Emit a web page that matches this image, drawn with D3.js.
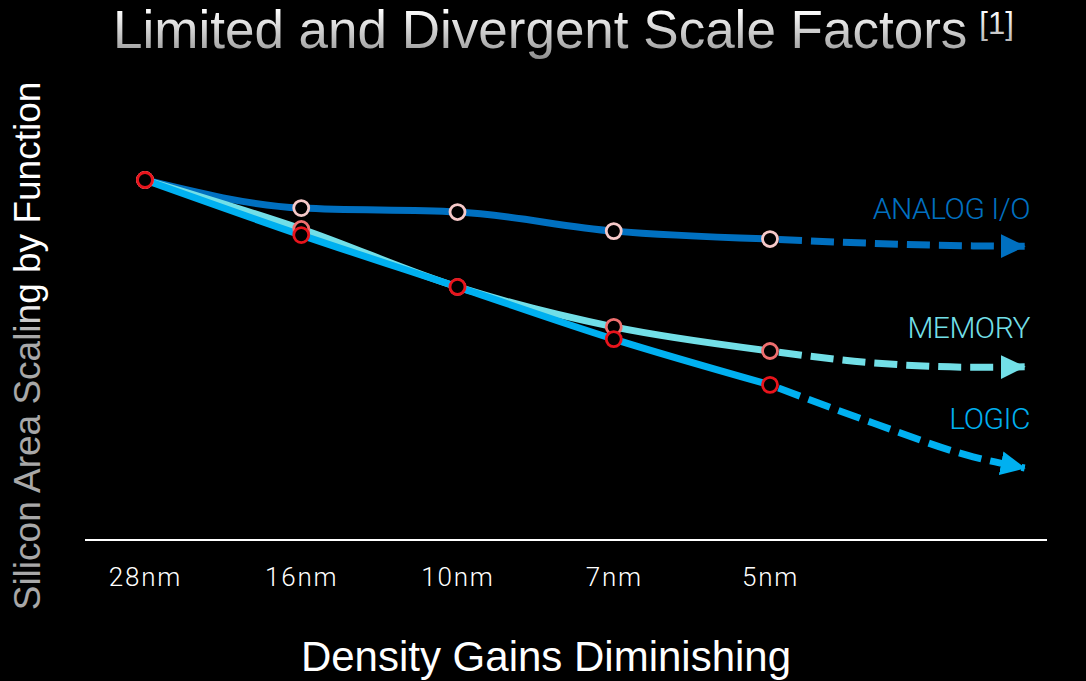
<!DOCTYPE html>
<html>
<head>
<meta charset="utf-8">
<script src="https://cdn.jsdelivr.net/npm/d3@7"></script>
<style>
  html, body { margin: 0; padding: 0; background: #000; }
  svg { display: block; }
</style>
</head>
<body>
<script>
// ---- data ----
const categories = ["28nm", "16nm", "10nm", "7nm", "5nm"];
const analogValues = [1.000, 0.922, 0.911, 0.858, 0.836];
const memoryValues = [1.000, 0.864, 0.703, 0.592, 0.525];
const logicValues  = [1.000, 0.847, 0.703, 0.558, 0.431];
// projections beyond 5nm (position measured in node steps)
const projectionSteps = [4, 4.66, 5.3, 5.63];
const analogProjection = [0.836, 0.824, 0.817, 0.816];
const memoryProjection = [0.525, 0.492, 0.480, 0.481];
const logicProjection  = [0.431, 0.325, 0.231, 0.200];
const seriesNames = ["ANALOG I/O", "MEMORY", "LOGIC"];

const W = 1086, H = 681;
const svg = d3.select("body").append("svg").attr("width", W).attr("height", H)
  .style("background", "#000");
const defs = svg.append("defs");

const titleGrad = defs.append("linearGradient").attr("id", "titleGrad")
  .attr("gradientUnits", "userSpaceOnUse").attr("x1", 0).attr("y1", 10).attr("x2", 0).attr("y2", 60);
titleGrad.append("stop").attr("offset", "0%").attr("stop-color", "#ffffff");
titleGrad.append("stop").attr("offset", "100%").attr("stop-color", "#8c8c8c");

const yGrad = defs.append("linearGradient").attr("id", "yGrad")
  .attr("gradientUnits", "userSpaceOnUse").attr("x1", 12).attr("y1", 0).attr("x2", 46).attr("y2", 0);
yGrad.append("stop").attr("offset", "0%").attr("stop-color", "#a8a8a8");
yGrad.append("stop").attr("offset", "100%").attr("stop-color", "#ffffff");

const x = d3.scaleLinear().domain([0, 4]).range([145, 770]);
const y = d3.scaleLinear().domain([0, 1]).range([540, 180]);

const series = [
  { name: seriesNames[0], values: analogValues, proj: analogProjection, color: "#0070c0", marker: "#f6c9c9", labelY: 219 },
  { name: seriesNames[1], values: memoryValues, proj: memoryProjection, color: "#72dfe7", marker: "#ef6f6f", labelY: 338 },
  { name: seriesNames[2], values: logicValues,  proj: logicProjection,  color: "#00b0f0", marker: "#e8141c", labelY: 429 }
];

series.forEach((s, i) => {
  defs.append("marker").attr("id", "arrow" + i)
    .attr("markerUnits", "userSpaceOnUse")
    .attr("viewBox", "0 -13 25 26")
    .attr("refX", 24).attr("refY", 0)
    .attr("markerWidth", 25).attr("markerHeight", 26)
    .attr("orient", "auto")
    .append("path").attr("d", "M0,-12L25,0L0,12Z").attr("fill", s.color);
});

// title
const title = svg.append("text").attr("x", 113).attr("y", 48)
  .attr("font-family", "Liberation Sans, Arial, sans-serif").attr("font-size", 53)
  .attr("fill", "url(#titleGrad)");
title.append("tspan").text("Limited and Divergent Scale Factors");
title.append("tspan").attr("dx", 12).attr("dy", -14).attr("font-size", 31).text("[1]");

// y axis title
svg.append("text")
  .attr("transform", "translate(40,346) rotate(-90)")
  .attr("text-anchor", "middle")
  .attr("font-family", "Liberation Sans, Arial, sans-serif").attr("font-size", 37)
  .attr("fill", "url(#yGrad)")
  .text("Silicon Area Scaling by Function");

// x axis title
svg.append("text").attr("x", 546).attr("y", 671).attr("text-anchor", "middle")
  .attr("font-family", "Liberation Sans, Arial, sans-serif").attr("font-size", 42)
  .attr("fill", "#ffffff").text("Density Gains Diminishing");

// baseline
svg.append("line").attr("x1", 85).attr("x2", 1047).attr("y1", y(0)).attr("y2", y(0))
  .attr("stroke", "#ffffff").attr("stroke-width", 2);

// x axis tick labels
const xAxis = d3.axisBottom(x).tickValues(d3.range(categories.length))
  .tickFormat(i => categories[i]).tickSize(0);
const gx = svg.append("g").attr("transform", `translate(0,${y(0)})`).call(xAxis);
gx.select(".domain").remove();
gx.selectAll("text").attr("y", 46).attr("dy", null)
  .attr("fill", "#ffffff")
  .attr("font-family", "Roboto, sans-serif").attr("font-weight", 300)
  .attr("font-size", 26).attr("letter-spacing", 1.8);

const line = d3.line().x((d, i) => x(i)).y(d => y(d)).curve(d3.curveMonotoneX);
const projLine = d3.line().x((d, i) => x(projectionSteps[i])).y(d => y(d)).curve(d3.curveMonotoneX);

// projections (dashed)
series.forEach((s, i) => {
  svg.append("path").attr("d", projLine(s.proj))
    .attr("fill", "none").attr("stroke", s.color).attr("stroke-width", 7)
    .attr("stroke-dasharray", "23 9").attr("stroke-dashoffset", 23)
    .attr("marker-end", `url(#arrow${i})`);
});

// solid lines
series.forEach(s => {
  svg.append("path").attr("d", line(s.values))
    .attr("fill", "none").attr("stroke", s.color).attr("stroke-width", 7)
    .attr("stroke-linejoin", "round");
});

// markers
series.forEach(s => {
  svg.append("g").selectAll("circle").data(s.values).join("circle")
    .attr("cx", (d, i) => x(i)).attr("cy", d => y(d)).attr("r", 7.5)
    .attr("fill", "#000").attr("stroke", s.marker).attr("stroke-width", 2.8);
});

// series labels
series.forEach(s => {
  svg.append("text").attr("x", 1030).attr("y", s.labelY).attr("text-anchor", "end")
    .attr("font-family", "Roboto, sans-serif").attr("font-weight", 300)
    .attr("font-size", 30).attr("letter-spacing", -0.5)
    .attr("fill", s.color).text(s.name);
});
</script>
</body>
</html>
